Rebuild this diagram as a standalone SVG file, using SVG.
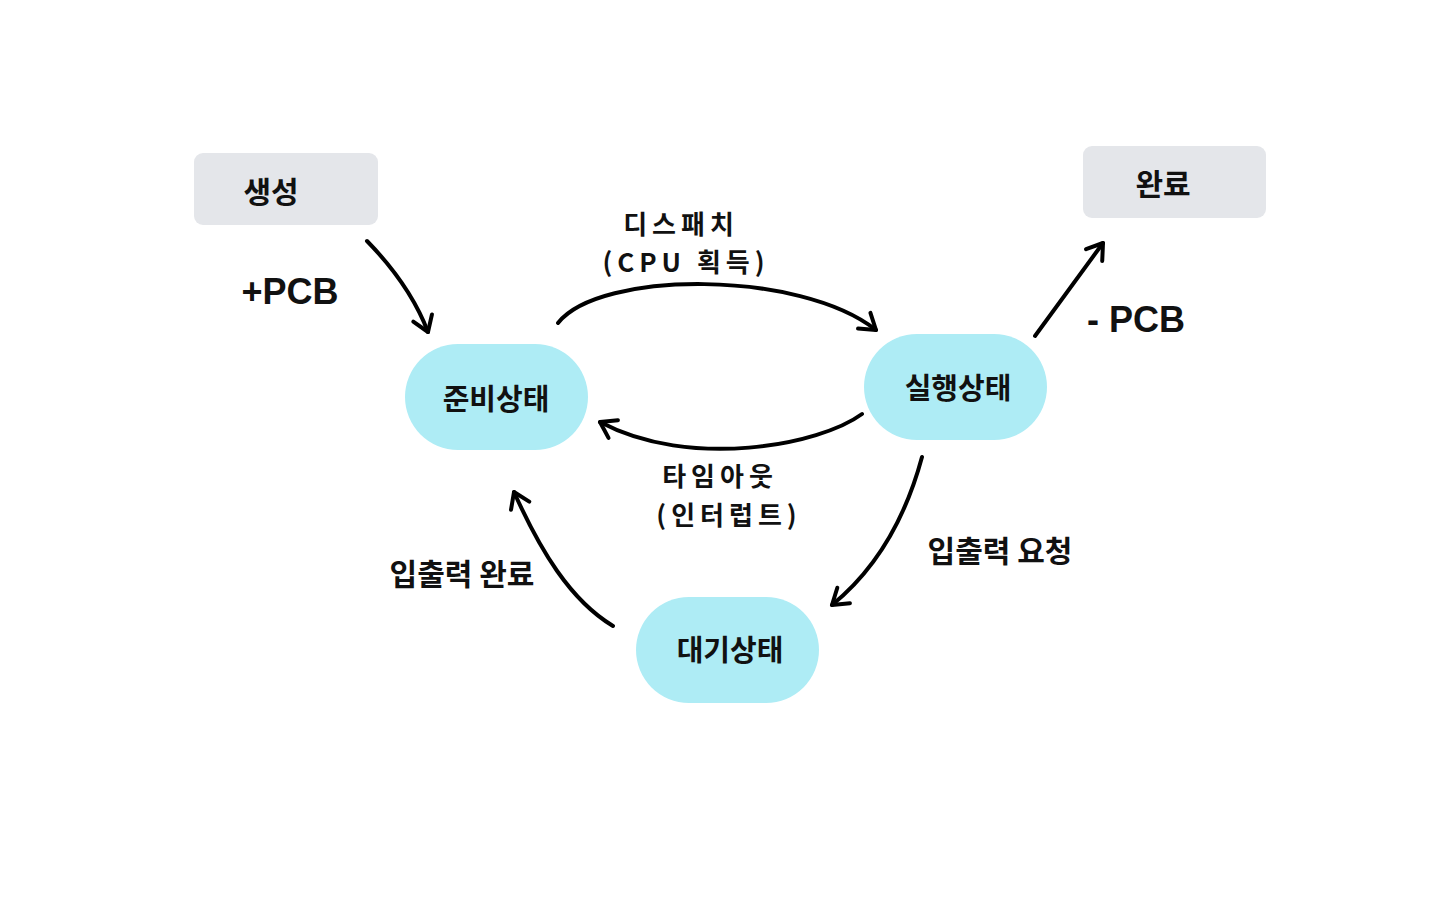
<svg xmlns="http://www.w3.org/2000/svg" width="1440" height="900" viewBox="0 0 1440 900">
<defs>
<style>
.box{fill:#e4e6ea}
.state{fill:#aeecf5}
.t{font-family:"Noto Sans CJK KR","Noto Sans",sans-serif;font-weight:700;fill:#111;text-anchor:middle;dominant-baseline:central}
.lat{font-family:"Liberation Sans","Noto Sans CJK KR",sans-serif;font-weight:700;fill:#111;text-anchor:middle;dominant-baseline:central}
.c{fill:none;stroke:#000;stroke-width:4;stroke-linecap:round;stroke-linejoin:round}
.two{font-size:26px;letter-spacing:5px}
</style>
<marker id="ah" viewBox="-18 -14 22 28" markerWidth="22" markerHeight="28" refX="0" refY="0" markerUnits="userSpaceOnUse" orient="auto">
<path d="M-15,-10 L0,0 L-15,10" fill="none" stroke="#000" stroke-width="4" stroke-linecap="round" stroke-linejoin="round"/>
</marker>
</defs>
<rect width="1440" height="900" fill="#fff"/>
<g id="create"><rect class="box" x="194" y="153" width="184" height="72" rx="9"/><text class="t" x="271" y="190" font-size="30">생성</text></g>
<g id="done"><rect class="box" x="1083" y="146" width="183" height="72" rx="9"/><text class="t" x="1163" y="182" font-size="30">완료</text></g>
<g id="ready"><rect class="state" x="405" y="344" width="183" height="106" rx="53"/><text class="t" x="496" y="397" font-size="29">준비상태</text></g>
<g id="running"><rect class="state" x="864" y="334" width="183" height="106" rx="53"/><text class="t" x="958" y="386" font-size="29">실행상태</text></g>
<g id="waiting"><rect class="state" x="636" y="597" width="183" height="106" rx="53"/><text class="t" x="730" y="648" font-size="29">대기상태</text></g>
<g id="connectors">
<path class="c" marker-end="url(#ah)" d="M367,241 Q410,285 428,332"/>
<path class="c" marker-end="url(#ah)" d="M558,323 C600,270 800,270 876,330"/>
<path class="c" marker-end="url(#ah)" d="M862,414 C820,445 690,470 600,422"/>
<path class="c" marker-end="url(#ah)" d="M1035,336 L1103,243"/>
<path class="c" marker-end="url(#ah)" d="M922,457 C905,520 875,570 832,605"/>
<path class="c" marker-end="url(#ah)" d="M613,626 C570,600 540,550 514,492"/>
</g>
<g id="labels">
<text class="lat" x="290" y="291" font-size="36">+PCB</text>
<text class="lat" x="1136" y="319" font-size="36">- PCB</text>
<text class="t two" x="681" y="222">디스패치</text>
<text class="t two" x="686" y="260">(CPU 획득)</text>
<text class="t two" x="720" y="474">타임아웃</text>
<text class="t two" x="729" y="513">(인터럽트)</text>
<text class="t" x="1000" y="549" font-size="30">입출력 요청</text>
<text class="t" x="462" y="572" font-size="30">입출력 완료</text>
</g>
</svg>
